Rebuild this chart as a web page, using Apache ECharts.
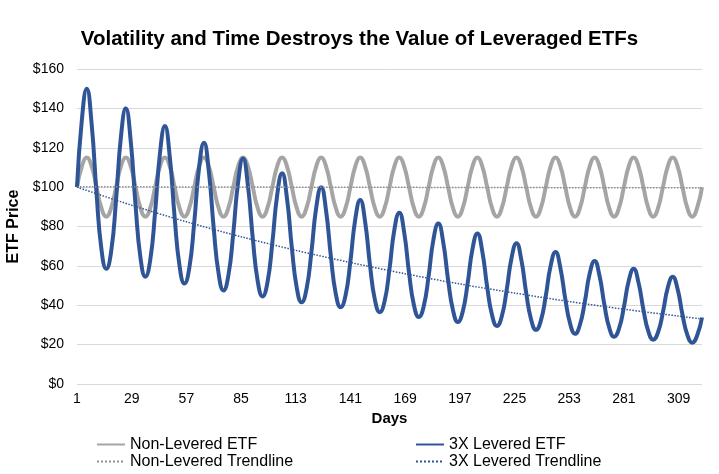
<!DOCTYPE html>
<html>
<head>
<meta charset="utf-8">
<script src="https://cdn.jsdelivr.net/npm/echarts@6/dist/echarts.min.js"></script>
<style>
  html, body { margin: 0; padding: 0; background: #ffffff; }
  #chart { width: 719px; height: 474px; }
</style>
</head>
<body>
<div id="chart"></div>
<script>
// ---- data ----
var titleText = 'Volatility and Time Destroys the Value of Leveraged ETFs';
var xTicks = [1, 29, 57, 85, 113, 141, 169, 197, 225, 253, 281, 309];

// key days read along each 20-day swing (crossings, shoulders, peaks, troughs)
var keyDays = [
  1, 3.5, 6, 8.5, 11, 13.5, 16, 18.5,
  21, 23.5, 26, 28.5, 31, 33.5, 36, 38.5,
  41, 43.5, 46, 48.5, 51, 53.5, 56, 58.5,
  61, 63.5, 66, 68.5, 71, 73.5, 76, 78.5,
  81, 83.5, 86, 88.5, 91, 93.5, 96, 98.5,
  101, 103.5, 106, 108.5, 111, 113.5, 116, 118.5,
  121, 123.5, 126, 128.5, 131, 133.5, 136, 138.5,
  141, 143.5, 146, 148.5, 151, 153.5, 156, 158.5,
  161, 163.5, 166, 168.5, 171, 173.5, 176, 178.5,
  181, 183.5, 186, 188.5, 191, 193.5, 196, 198.5,
  201, 203.5, 206, 208.5, 211, 213.5, 216, 218.5,
  221, 223.5, 226, 228.5, 231, 233.5, 236, 238.5,
  241, 243.5, 246, 248.5, 251, 253.5, 256, 258.5,
  261, 263.5, 266, 268.5, 271, 273.5, 276, 278.5,
  281, 283.5, 286, 288.5, 291, 293.5, 296, 298.5,
  301, 303.5, 306, 308.5, 311, 313.5, 316, 318.5,
  321];

var nonLevered = [
  100, 110.6, 115, 110.6, 100, 89.4, 85, 89.4,
  100, 110.6, 115, 110.6, 100, 89.4, 85, 89.4,
  100, 110.6, 115, 110.6, 100, 89.4, 85, 89.4,
  100, 110.6, 115, 110.6, 100, 89.4, 85, 89.4,
  100, 110.6, 115, 110.6, 100, 89.4, 85, 89.4,
  100, 110.6, 115, 110.6, 100, 89.4, 85, 89.4,
  100, 110.6, 115, 110.6, 100, 89.4, 85, 89.4,
  100, 110.6, 115, 110.6, 100, 89.4, 85, 89.4,
  100, 110.6, 115, 110.6, 100, 89.4, 85, 89.4,
  100, 110.6, 115, 110.6, 100, 89.4, 85, 89.4,
  100, 110.6, 115, 110.6, 100, 89.4, 85, 89.4,
  100, 110.6, 115, 110.6, 100, 89.4, 85, 89.4,
  100, 110.6, 115, 110.6, 100, 89.4, 85, 89.4,
  100, 110.6, 115, 110.6, 100, 89.4, 85, 89.4,
  100, 110.6, 115, 110.6, 100, 89.4, 85, 89.4,
  100, 110.6, 115, 110.6, 100, 89.4, 85, 89.4,
  100];

var levered3x = [
  100, 134.3, 150, 132, 96.8, 68.6, 58.5, 67.4,
  93.5, 125.6, 140, 123.4, 90.5, 64.1, 54.5, 63.0,
  87.4, 117.4, 131, 115.4, 84.6, 60.0, 51, 58.9,
  81.7, 109.8, 122.5, 107.9, 79.1, 56.1, 47.5, 55.1,
  76.4, 102.6, 114.5, 100.9, 74.0, 52.4, 44.5, 51.5,
  71.5, 96.0, 107, 94.3, 69.2, 49.0, 41.5, 48.2,
  66.8, 89.7, 100, 88.2, 64.7, 45.8, 39, 45.0,
  62.5, 83.9, 93.5, 82.5, 60.5, 42.9, 36.5, 42.1,
  58.4, 78.4, 87, 77.1, 56.5, 40.1, 34, 39.4,
  54.6, 73.4, 81.5, 72.1, 52.9, 37.5, 31.5, 36.8,
  51.1, 68.6, 76.5, 67.4, 49.4, 35.0, 29.5, 34.4,
  47.8, 64.1, 71.5, 63.0, 46.2, 32.8, 27.5, 32.2,
  44.6, 60.0, 67, 58.9, 43.2, 30.6, 25.5, 30.1,
  41.7, 56.1, 62.5, 55.1, 40.4, 28.6, 24, 28.1,
  39.0, 52.4, 58.5, 51.5, 37.8, 26.8, 22.5, 26.3,
  36.5, 49.0, 54.5, 48.2, 35.3, 25.0, 21, 24.6,
  33.8];

var nonLevTrendDays = [1, 321];
var nonLevTrend = [100.2, 99.6];

var levTrendDays = [1, 29, 57, 85, 113, 141, 169, 197, 225, 253, 281, 309, 321];
var levTrend = [100, 90.8, 82.4, 74.8, 67.9, 61.7, 56.0, 50.8, 46.2, 41.9, 38.0, 34.5, 33.0];

var seriesNames = ['Non-Levered ETF', '3X Levered ETF', 'Non-Levered Trendline', '3X Levered Trendline'];

function pairs(xs, ys) {
  var out = [];
  for (var i = 0; i < xs.length; i++) out.push([xs[i], ys[i]]);
  return out;
}

var GRAY = '#A5A5A5';
var BLUE = '#2F5597';
var FONT = '"Liberation Sans", Arial, Helvetica, sans-serif';

var legendCommon = {
  orient: 'vertical',
  top: 436,
  padding: 0,
  itemWidth: 28, itemHeight: 10, itemGap: 0,
  itemStyle: { opacity: 0, borderWidth: 0 },
  textStyle: { fontFamily: FONT, fontSize: 16, color: '#000', lineHeight: 17 }
};

var chart = echarts.init(document.getElementById('chart'), null, { renderer: 'canvas' });
chart.setOption({
  animation: false,
  backgroundColor: '#ffffff',
  textStyle: { fontFamily: FONT, color: '#000' },
  title: {
    text: titleText,
    left: 'center',
    top: 29,
    padding: 0,
    textStyle: { fontFamily: FONT, fontSize: 20.5, fontWeight: 'bold', color: '#000' }
  },
  grid: { left: 77, right: 17, top: 69, bottom: 90, containLabel: false, outerBoundsMode: 'none' },
  legend: [
    Object.assign({}, legendCommon, { data: [seriesNames[0], seriesNames[2]], left: 96 }),
    Object.assign({}, legendCommon, { data: [seriesNames[1], seriesNames[3]], left: 415 })
  ],
  xAxis: {
    type: 'value',
    min: 1, max: 321,
    name: 'Days',
    nameLocation: 'middle',
    nameGap: 20,
    nameTextStyle: { fontFamily: FONT, fontSize: 15, fontWeight: 'bold', color: '#000' },
    axisLine: { show: false },
    axisTick: { show: false },
    splitLine: { show: false },
    axisLabel: {
      customValues: xTicks,
      fontFamily: FONT, fontSize: 14, color: '#000', margin: 8
    }
  },
  yAxis: {
    type: 'value',
    min: 0, max: 160, interval: 20,
    name: 'ETF Price',
    nameLocation: 'middle',
    nameGap: 49,
    nameTextStyle: { fontFamily: FONT, fontSize: 16, fontWeight: 'bold', color: '#000' },
    axisLine: { show: false },
    axisTick: { show: false },
    splitLine: { lineStyle: { color: '#D9D9D9', width: 1 } },
    axisLabel: {
      formatter: function (v) { return '$' + v; },
      fontFamily: FONT, fontSize: 14, color: '#000', margin: 13
    }
  },
  series: [
    {
      name: seriesNames[0], type: 'line', data: pairs(keyDays, nonLevered),
      smooth: 0.5, symbol: 'none', color: GRAY,
      lineStyle: { color: GRAY, width: 4 }, z: 2
    },
    {
      name: seriesNames[1], type: 'line', data: pairs(keyDays, levered3x),
      smooth: 0.5, symbol: 'none', color: BLUE,
      lineStyle: { color: BLUE, width: 4 }, z: 3
    },
    {
      name: seriesNames[2], type: 'line', data: pairs(nonLevTrendDays, nonLevTrend),
      symbol: 'none', color: '#8F8F8F',
      lineStyle: { color: '#8F8F8F', width: 1.5, type: 'dotted' }, z: 4
    },
    {
      name: seriesNames[3], type: 'line', data: pairs(levTrendDays, levTrend),
      smooth: 0.3, symbol: 'none', color: BLUE,
      lineStyle: { color: BLUE, width: 1.5, type: 'dotted' }, z: 5
    }
  ]
});
</script>
</body>
</html>
